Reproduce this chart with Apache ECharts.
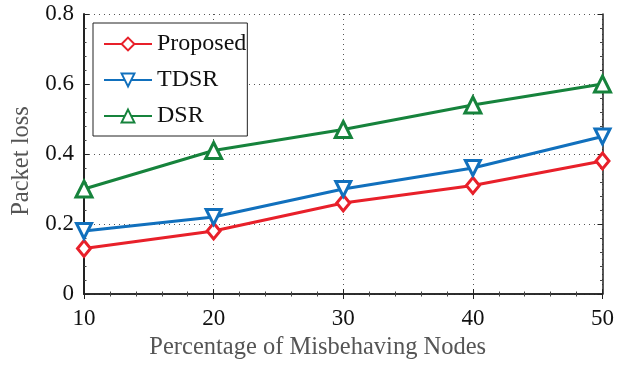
<!DOCTYPE html>
<html><head><meta charset="utf-8">
<script src="https://cdn.jsdelivr.net/npm/echarts@6/dist/echarts.min.js"></script>
<style>html,body{margin:0;padding:0;background:#fff}#c{width:617px;height:368px}</style>
</head><body><div id="c"></div>
<script>
const xValues = [10, 20, 30, 40, 50];
const proposed = [0.13, 0.18, 0.26, 0.31, 0.38];
const tdsr = [0.18, 0.22, 0.30, 0.36, 0.45];
const dsr = [0.30, 0.41, 0.47, 0.54, 0.60];
const seriesNames = ['Proposed', 'TDSR', 'DSR'];
const xTitle = 'Percentage of Misbehaving Nodes';
const yTitle = 'Packet loss';

const FONT = '"Liberation Serif","Times New Roman",serif';
const pair = (ys) => xValues.map((x, i) => [x, ys[i]]);
const mk = (name, data, color, symbol, size) => ({
  name, type: 'line', data: pair(data), symbol, symbolSize: size,
  showSymbol: true,
  lineStyle: { color, width: 3 },
  itemStyle: { color: '#fff', borderColor: color, borderWidth: 3 },
  emphasis: { disabled: true }, animation: false, z: 3
});
const axisCommon = {
  axisLine: { show: true, lineStyle: { color: '#222', width: 1.5 } },
  axisTick: { show: true, inside: true, length: 5, lineStyle: { color: '#222' } },
  minorTick: { show: true, splitNumber: 5, length: 2.5, lineStyle: { color: '#444' } }
};
const chart = echarts.init(document.getElementById('c'), null, { renderer: 'canvas' });
chart.setOption({
  animation: false,
  backgroundColor: '#fff',
  grid: { left: 84, right: 12, top: 14, bottom: 74, containLabel: false },
  legend: {
    orient: 'vertical', left: 93, top: 23,
    data: seriesNames,
    itemWidth: 48, itemHeight: 16, itemGap: 12,
    padding: [9, 1, 8, 10],
    backgroundColor: '#fff', borderColor: '#222', borderWidth: 1,
    textStyle: { fontFamily: FONT, fontSize: 24, color: '#111', lineHeight: 18 },
    z: 10
  },
  xAxis: [{
    type: 'value', min: 10, max: 50, interval: 10, position: 'bottom',
    ...axisCommon,
    axisLabel: { fontFamily: FONT, fontSize: 23, color: '#111', margin: 13 },
    splitLine: { show: true, lineStyle: { color: '#555', type: [1, 4], width: 1 } },
    name: xTitle, nameLocation: 'middle', nameGap: 34,
    nameTextStyle: { fontFamily: FONT, fontSize: 24.5, color: '#555', padding: [0, 51, 0, 0] }
  }, {
    type: 'value', min: 10, max: 50, interval: 10, position: 'top',
    ...axisCommon, axisLabel: { show: false }, splitLine: { show: false }
  }],
  yAxis: [{
    type: 'value', min: 0, max: 0.8, interval: 0.2, position: 'left',
    ...axisCommon,
    axisLine: { show: true, lineStyle: { color: '#222', width: 2 } },
    axisLabel: { fontFamily: FONT, fontSize: 23, color: '#111', margin: 10,
      formatter: v => (v === 0 ? '0' : String(+v.toFixed(1))) },
    splitLine: { show: true, lineStyle: { color: '#555', type: [1, 4], width: 1 } },
    name: yTitle, nameLocation: 'middle', nameGap: 50,
    nameTextStyle: { fontFamily: FONT, fontSize: 24.5, color: '#555', padding: [0, 14, 0, 0] }
  }, {
    type: 'value', min: 0, max: 0.8, interval: 0.2, position: 'right',
    ...axisCommon, axisLabel: { show: false }, splitLine: { show: false }
  }],
  series: [
    mk(seriesNames[0], proposed, '#e8202a', 'diamond', [13, 16]),
    mk(seriesNames[1], tdsr, '#1170bd', 'triangle', 15),
    mk(seriesNames[2], dsr, '#16833c', 'triangle', 16)
  ].map((s, i) => i === 1 ? { ...s, symbolRotate: 180 } : s)
});
</script></body></html>
